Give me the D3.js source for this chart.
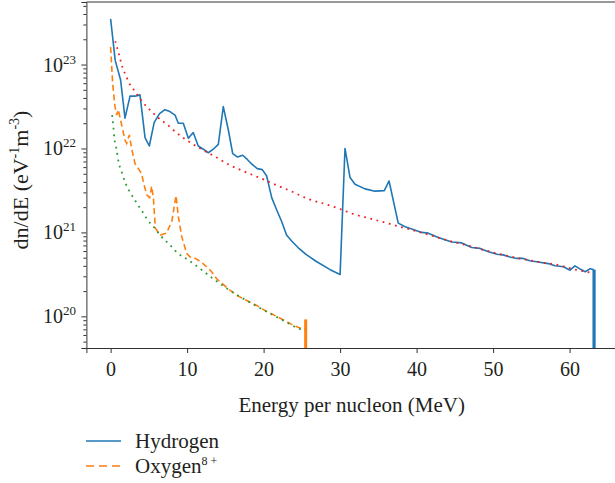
<!DOCTYPE html>
<html><head><meta charset="utf-8">
<script src="https://cdn.jsdelivr.net/npm/d3@7/dist/d3.min.js"></script>
<style>
body{margin:0;background:#fff;}
svg text{font-family:'Liberation Serif','Times New Roman','DejaVu Serif','Noto Serif',serif !important;fill:#231f20;}
</style></head>
<body><svg id="c" width="615" height="483"></svg>
<script>
// ---- data ----
const hydrogenE = [0,0.6,1.3,1.88,2.54,3.19,3.84,4.5,5.06,5.7,6.4,7.1,7.76,8.42,8.85,9.5,10.16,10.8,11.46,12.12,12.77,13.42,14.08,14.73,15.39,15.96,16.6,17.27,17.87,18.5,19.18,19.83,20.4,21.06,21.7,22.36,23.0,23.67,24.5,25.5,26.9,28.7,30.0,30.64,31.3,31.95,33.25,34.56,35.78,36.4,37.6,38.5,39.36,40.66,41.53,42.6,43.5,44.6,45.9,47.2,48.3,49.4,50.5,51.3,52.2,53.1,53.95,54.8,55.9,57.2,58.1,59.2,60.05,60.7,61.4,62.05,62.7,63.2];
const hydrogenN = [3.5e23,1.12e23,6.6e22,2.3e22,4.2e22,4.2e22,4.35e22,1.35e22,1.07e22,2.05e22,2.6e22,2.9e22,2.75e22,2.5e22,2.0e22,2.0e22,1.32e22,1.55e22,1.07e22,9.8e21,8.9e21,9.8e21,1.12e22,3.15e22,1.66e22,8.7e21,7.9e21,8.3e21,7.4e21,6.45e21,5.75e21,5.6e21,4.7e21,2.6e21,1.86e21,1.35e21,9.3e20,7.9e20,6.6e20,5.5e20,4.5e20,3.6e20,3.15e20,1.0e22,4.5e21,3.75e21,3.3e21,3.1e21,3.15e21,4.1e21,1.29e21,1.17e21,1.1e21,1.0e21,9.8e20,8.9e20,8.3e20,7.7e20,7.5e20,6.6e20,6.45e20,5.9e20,5.5e20,5.4e20,5.1e20,4.9e20,4.9e20,4.6e20,4.45e20,4.25e20,4.0e20,3.9e20,3.55e20,4.0e20,3.65e20,3.4e20,3.7e20,3.6e20];
const oxygenE = [0,0.27,0.57,0.8,1.0,1.45,1.88,2.1,2.45,2.75,3.19,3.62,4.06,4.28,4.72,5.1,5.37,5.6,5.85,6.5,7.3,8.0,8.55,8.85,9.3,9.95,10.5,11.1,11.8,12.56,13.2,13.87,14.6,15.6,16.5,17.35,18.2,19.1,20.2,21.05,21.9,23.0,23.9,24.5,25.0,25.3,25.5];
const oxygenN = [1.62e23,5.9e22,3.15e22,2.5e22,2.9e22,1.9e22,1.26e22,1.15e22,1.45e22,1.0e22,6.6e21,5.75e21,5.0e21,4.0e21,2.8e21,2.6e21,3.55e21,2.5e21,1.12e21,9.3e20,9.8e20,1.35e21,2.75e21,1.55e21,8.9e20,5.6e20,5.0e20,4.9e20,4.45e20,3.9e20,3.4e20,2.8e20,2.45e20,2.05e20,1.78e20,1.62e20,1.48e20,1.35e20,1.17e20,1.07e20,9.8e19,8.7e19,7.8e19,7.4e19,7.1e19,7.2e19,6.9e19];
const hydrogenFitE = [0.6,0.88,1.1,1.32,1.58,1.88,2.23,2.54,3.19,3.62,4.2,4.72,5.37,6.03,6.68,7.33,8.0,9.3,10.8,12.34,13.87,15.4,16.9,18.65,20.2,21.7,23.4,25.85,28.25,30.0,31.7,34.1,36.5,38.26,40.9,43.5,46.1,48.7,51.3,53.95,56.6,58.75,60.5,61.8,62.9];
const hydrogenFitN = [1.9e23,1.55e23,1.32e23,1.1e23,9.1e22,7.8e22,6.6e22,5.75e22,4.8e22,4.2e22,3.55e22,3.15e22,2.75e22,2.4e22,2.15e22,1.95e22,1.72e22,1.38e22,1.12e22,9.3e21,7.8e21,6.45e21,5.6e21,4.8e21,4.2e21,3.65e21,3.15e21,2.5e21,2.15e21,1.9e21,1.66e21,1.45e21,1.26e21,1.14e21,9.8e20,8.3e20,7.2e20,6.2e20,5.4e20,4.8e20,4.35e20,4.05e20,3.65e20,3.45e20,3.3e20];
const oxygenFitE = [0.2,0.36,0.49,0.66,0.8,1.0,1.45,1.88,2.54,2.97,3.76,4.28,4.72,5.8,6.46,7.55,8.85,10.16,11.7,13.65,15.2,16.7,18.9,21.3,23.0,24.5,25.3];
const oxygenFitN = [2.5e22,1.82e22,1.32e22,1.1e22,9.5e21,7.2e21,5.25e21,4.0e21,3.0e21,2.6e21,2.0e21,1.7e21,1.45e21,1.12e21,9.3e20,7.4e20,5.6e20,4.7e20,3.7e20,2.7e20,2.15e20,1.76e20,1.35e20,1.03e20,8.5e19,7.2e19,6.8e19];
// cut-off spikes at the end of each spectrum: [energy, top value]
const hydrogenCutoff = [63.2, 3.6e20];
const oxygenCutoff = [25.5, 9.2e19];
const xTicks = [0,10,20,30,40,50,60];
const yTicks = [1e20,1e21,1e22,1e23];
const legendLabels = ["Hydrogen","Oxygen"];

// ---- layout ----
const svg = d3.select("#c");
const FONT = "'Liberation Serif','Times New Roman','DejaVu Serif','Noto Serif',serif";
const L = 86.4, R = 619, T = 2, B = 348;
const x = d3.scaleLinear().domain([-3.165, 66.46]).range([L, R]);
const y = d3.scaleLog().domain([Math.pow(10,19.623), Math.pow(10,23.745)]).range([B, T]);
const C = {blue:"#1f77b4", orange:"#ff7f0e", red:"#ee2222", green:"#2a9a3a", axis:"#333"};

svg.append("clipPath").attr("id","clip").append("rect")
  .attr("x",L).attr("y",T).attr("width",R-L).attr("height",B-T);
const g = svg.append("g").attr("clip-path","url(#clip)");

const line = (xs, ys, curve) => d3.line().x((d,i)=>x(xs[i])).y((d,i)=>y(ys[i])).curve(curve||d3.curveLinear)(xs);

g.append("path").attr("d", line(hydrogenE, hydrogenN)).attr("fill","none")
  .attr("stroke",C.blue).attr("stroke-width",1.6).attr("stroke-linejoin","round");
g.append("path").attr("d", line(oxygenE, oxygenN)).attr("fill","none")
  .attr("stroke",C.orange).attr("stroke-width",1.6).attr("stroke-dasharray","6,3.5");
g.append("line").attr("x1",x(hydrogenCutoff[0])).attr("x2",x(hydrogenCutoff[0]))
  .attr("y1",y(hydrogenCutoff[1])).attr("y2",B+5).attr("stroke",C.blue).attr("stroke-width",3.2);
g.append("line").attr("x1",x(oxygenCutoff[0])).attr("x2",x(oxygenCutoff[0]))
  .attr("y1",y(oxygenCutoff[1])).attr("y2",B+5).attr("stroke",C.orange).attr("stroke-width",3);
g.append("path").attr("d", line(hydrogenFitE, hydrogenFitN, d3.curveMonotoneX)).attr("fill","none")
  .attr("stroke",C.red).attr("stroke-width",1.8).attr("stroke-dasharray","1.8,4.6");
g.append("path").attr("d", line(oxygenFitE, oxygenFitN, d3.curveMonotoneX)).attr("fill","none")
  .attr("stroke",C.green).attr("stroke-width",1.8).attr("stroke-dasharray","1.8,4.6");

// ---- frame ----
svg.append("line").attr("x1",L).attr("x2",615).attr("y1",T).attr("y2",T).attr("stroke",C.axis).attr("stroke-width",1);

const xa = svg.append("g").attr("transform",`translate(0,${B})`)
  .call(d3.axisBottom(x).tickValues(xTicks).tickSize(5).tickPadding(9).tickFormat(d3.format("d")));
xa.attr("font-family",null);
xa.select(".domain").attr("stroke",C.axis);
xa.selectAll(".tick line").attr("stroke",C.axis);
xa.selectAll("text").style("font-size","20px").style("font-family",FONT);

const minor = [];
for (let e=19; e<=23; e++) for (let m=2; m<=9; m++) { const v=m*Math.pow(10,e); if (v>y.domain()[0] && v<y.domain()[1]) minor.push(v); }
const ya = svg.append("g").attr("transform",`translate(${L},0)`)
  .call(d3.axisLeft(y).tickValues(yTicks).tickSize(5).tickFormat(""));
ya.select(".domain").attr("stroke",C.axis);
ya.selectAll(".tick line").attr("stroke",C.axis);
const ym = svg.append("g").attr("transform",`translate(${L},0)`)
  .call(d3.axisLeft(y).tickValues(minor).tickSize(3).tickFormat(""));
ym.select(".domain").remove();
ym.selectAll(".tick line").attr("stroke",C.axis);

yTicks.forEach(v=>{
  const t = svg.append("text").attr("x",76).attr("y",y(v)+7).attr("text-anchor","end")
    .style("font-size","20px").style("font-family",FONT);
  t.append("tspan").text("10");
  t.append("tspan").style("font-size","13px").attr("dy",-8).text(String(Math.round(Math.log10(v))));
});

svg.append("text").attr("x",(L+R)/2 - 1).attr("y",412).attr("text-anchor","middle")
  .style("font-size","21px").style("font-family",FONT).text("Energy per nucleon (MeV)");
const yl = svg.append("text").attr("transform",`translate(28,180) rotate(-90)`)
  .attr("text-anchor","middle").style("font-size","22px").style("font-family",FONT);
yl.append("tspan").text("dn/dE (eV");
yl.append("tspan").style("font-size","14px").attr("dy",-9).text("-1");
yl.append("tspan").attr("dy",9).text("m");
yl.append("tspan").style("font-size","14px").attr("dy",-9).text("-3");
yl.append("tspan").attr("dy",9).text(")");

const lg = svg.append("g");
lg.append("line").attr("x1",86).attr("x2",121).attr("y1",441).attr("y2",441).attr("stroke",C.blue).attr("stroke-width",1.6);
lg.append("line").attr("x1",86).attr("x2",121).attr("y1",466).attr("y2",466).attr("stroke",C.orange).attr("stroke-width",1.6).attr("stroke-dasharray","8,5");
lg.append("text").attr("x",135).attr("y",448).style("font-size","21px").style("font-family",FONT).text(legendLabels[0]);
const ox = lg.append("text").attr("x",135).attr("y",473).style("font-size","21px").style("font-family",FONT);
ox.append("tspan").text(legendLabels[1]);
ox.append("tspan").style("font-size","12px").attr("dy",-8).text("8 +");
</script></body></html>
